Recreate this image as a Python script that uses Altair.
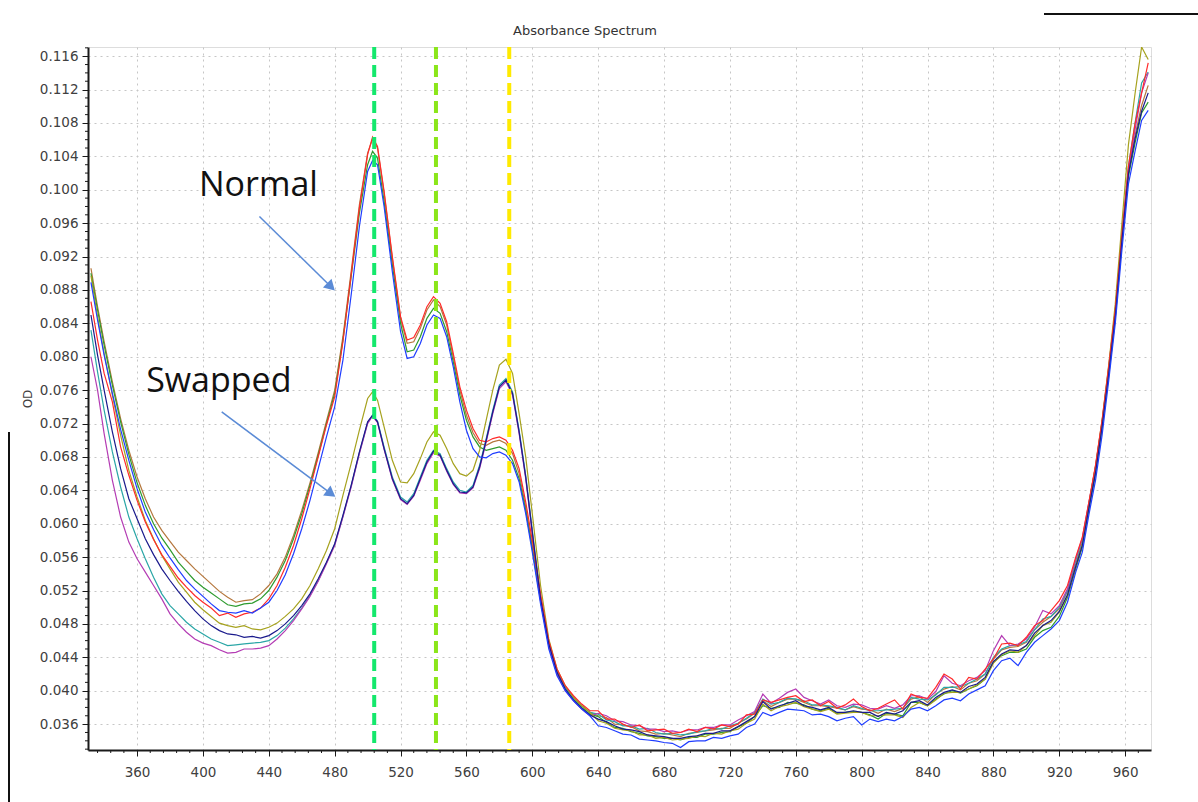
import math

import altair as alt
import pandas as pd

# ---------------------------------------------------------------------------
# Data: absorbance (milli-OD) of eight samples on a shared wavelength grid (nm)
# ---------------------------------------------------------------------------
WAVELENGTH = [
    332, 336, 340, 345, 350, 355, 360, 365, 370, 375, 380, 385, 390, 395, 400,
    405, 410, 415, 420, 425, 430, 435, 440, 445, 450, 455, 460, 465, 470, 475,
    480, 485, 490, 495, 500,
    503, 506, 510, 515, 520, 524, 528, 532, 536, 540, 544, 548, 552, 556, 560,
    564, 568, 572, 576, 580, 584, 588, 592, 596, 600, 605, 610, 615, 620, 625,
    630, 635,
    640, 645, 650, 655, 660, 665, 670, 675, 680, 685, 690, 695, 700, 705, 710,
    715, 720, 725, 730, 735, 740, 745, 750, 755, 760, 765, 770, 775, 780, 785,
    790, 795, 800, 805, 810, 815, 820, 825, 830, 835, 840, 845, 850, 855, 860,
    865, 870, 875, 880, 885, 890, 895, 900, 905, 910, 915, 920, 925, 930,
    934, 938, 942, 946, 950, 954, 958, 962, 966, 970, 974,
]

# Normal samples
NORMAL_RED = [
    86.6, 82.0, 78.0, 74.6, 69.2, 65.8, 62.8, 60.2, 58.1, 56.3, 54.9, 53.5, 52.4, 51.4, 50.6,
    49.9, 49.0, 49.3, 48.8, 49.2, 49.4, 49.9, 51.0, 52.6, 54.8, 57.4, 60.6, 64.2, 68.0, 71.8,
    75.2, 81.8, 89.8, 97.8, 104.2,
    106.3, 105.2, 99.8, 92.0, 84.8, 82.0, 82.3, 83.8, 86.0, 87.2, 86.4, 84.2, 80.4, 76.4, 73.6,
    71.4, 70.0, 69.8, 70.2, 70.4, 70.0, 68.8, 66.6, 62.6, 58.0, 51.6, 46.0, 42.6, 40.6, 39.4,
    38.4, 37.6,
    37.6, 36.6, 36.6, 36.0, 35.6, 35.9, 35.2, 35.3, 35.4, 34.9, 35.0, 35.4, 35.1, 35.6, 35.4,
    35.9, 35.7, 36.0, 37.1, 37.2, 38.9, 38.6, 38.9, 39.2, 39.4, 38.7, 38.9, 38.2, 38.7, 37.9,
    38.3, 39.0, 38.1, 37.6, 37.9, 38.4, 38.9, 37.8, 39.6, 39.2, 39.1, 40.4, 42.0, 41.4, 40.2,
    41.6, 41.4, 42.6, 43.8, 45.6, 45.7, 45.4, 46.4, 47.8, 48.4, 49.6, 50.8, 52.6, 56.0,
    58.4, 62.6, 67.0, 72.4, 78.8, 85.6, 94.5, 102.8, 107.9, 111.6, 115.2,
]
NORMAL_BROWN = [
    90.6, 86.0, 81.8, 77.0, 72.6, 68.8, 65.6, 63.0, 60.8, 59.2, 57.9, 56.6, 55.6, 54.6, 53.7,
    52.8, 51.9, 51.2, 50.6, 50.8, 50.9, 51.6, 52.6, 54.0, 56.0, 58.6, 61.6, 64.9, 68.5, 72.3,
    76.0, 82.4, 90.2, 98.2, 104.4,
    106.1, 105.0, 99.6, 91.8, 84.6, 81.6, 81.8, 83.4, 85.6, 86.8, 86.0, 83.8, 80.0, 76.0, 73.0,
    70.9, 69.6, 69.4, 69.8, 70.0, 69.6, 68.4, 66.0, 62.0, 57.4, 51.2, 45.8, 42.4, 40.4, 39.2,
    38.2, 37.4,
    37.0, 36.8, 36.0, 35.9, 35.7, 35.2, 35.1, 34.8, 34.9, 34.7, 34.5, 34.9, 35.0, 35.2, 35.3,
    35.5, 35.5, 36.1, 36.6, 37.3, 38.8, 38.1, 38.6, 39.0, 39.0, 38.6, 38.2, 38.2, 38.1, 37.9,
    37.7, 38.1, 37.8, 37.7, 37.3, 37.8, 37.5, 37.9, 39.0, 39.3, 38.6, 39.6, 40.2, 40.5, 40.1,
    40.9, 41.2, 42.0, 43.8, 44.9, 45.2, 45.3, 45.8, 47.3, 48.2, 48.9, 49.8, 51.9, 55.2,
    57.8, 62.3, 66.5, 72.0, 78.3, 85.2, 94.2, 102.3, 106.5, 110.1, 112.5,
]
NORMAL_GREEN = [
    90.0, 85.6, 81.4, 76.6, 72.2, 68.3, 64.9, 62.2, 60.0, 58.3, 56.9, 55.4, 54.3, 53.2, 52.4,
    51.7, 51.0, 50.3, 50.1, 50.4, 50.5, 51.0, 52.0, 53.6, 55.6, 58.2, 61.2, 64.6, 68.2, 72.0,
    75.6, 82.0, 89.6, 97.2, 103.0,
    104.6, 103.8, 98.6, 91.0, 84.0, 80.6, 80.8, 82.4, 84.6, 85.8, 85.2, 83.0, 79.4, 75.4, 72.4,
    70.4, 69.2, 68.8, 69.0, 69.2, 68.8, 67.6, 65.4, 61.6, 57.0, 50.8, 45.4, 42.0, 40.2, 39.0,
    38.0, 37.2,
    36.9, 36.2, 35.6, 35.5, 35.1, 34.9, 34.6, 34.5, 34.3, 34.3, 34.1, 34.4, 34.4, 34.8, 34.8,
    35.0, 35.1, 35.7, 36.1, 36.9, 38.2, 37.9, 38.0, 38.6, 38.5, 38.3, 37.8, 37.6, 37.9, 37.3,
    37.4, 37.5, 37.4, 37.1, 36.6, 37.3, 37.2, 37.0, 38.6, 38.6, 38.2, 39.0, 39.6, 40.0, 39.7,
    40.2, 40.6, 41.4, 43.4, 44.2, 44.6, 44.6, 45.0, 46.4, 47.2, 47.6, 48.9, 51.2, 54.6,
    57.2, 61.7, 65.9, 71.4, 77.7, 84.6, 93.6, 101.6, 105.6, 109.2, 110.5,
]
NORMAL_BLUE = [
    88.9, 84.4, 80.2, 75.6, 71.3, 67.6, 64.2, 61.4, 59.3, 57.4, 55.9, 54.5, 53.2, 52.2, 51.3,
    50.4, 49.6, 49.4, 49.3, 49.6, 49.3, 49.9, 50.6, 52.0, 53.9, 56.4, 59.4, 62.8, 66.6, 70.4,
    74.0, 79.6, 87.4, 95.6, 102.2,
    103.5, 103.0, 98.0, 90.2, 83.0, 79.8, 80.0, 81.6, 83.8, 85.0, 84.6, 82.4, 78.8, 74.6, 71.2,
    69.0, 68.0, 67.9, 68.4, 68.6, 68.2, 67.2, 65.0, 61.2, 56.6, 50.4, 45.0, 41.8, 40.0, 38.8,
    37.8, 37.0,
    35.8, 35.6, 35.2, 34.8, 34.7, 34.2, 34.1, 34.0, 33.8, 33.7, 33.2, 33.9, 34.0, 34.0, 34.4,
    34.3, 34.6, 34.8, 35.6, 36.0, 37.4, 37.0, 37.4, 37.8, 37.7, 37.6, 37.1, 37.2, 36.9, 36.4,
    36.7, 36.9, 35.9, 36.6, 36.3, 36.6, 36.4, 36.9, 37.8, 38.0, 37.6, 38.2, 38.9, 39.1, 38.8,
    39.6, 40.1, 40.6, 42.4, 43.6, 43.9, 43.0, 44.6, 45.8, 46.6, 47.4, 48.4, 50.6, 54.2,
    56.6, 61.1, 65.2, 70.6, 77.1, 84.0, 92.7, 100.7, 104.6, 108.3, 109.5,
]

# Swapped samples
SWAPPED_OLIVE = [
    89.7, 84.8, 80.4, 75.4, 70.6, 66.4, 63.2, 60.4, 58.2, 56.2, 54.6, 53.0, 51.8, 50.6, 49.7,
    48.9, 48.1, 47.8, 47.6, 47.8, 47.4, 47.3, 47.6, 48.1, 48.9, 49.8, 51.0, 52.6, 54.6, 56.8,
    59.4, 63.4, 67.2, 71.2, 75.0,
    75.8, 74.8, 71.6, 67.6, 65.0, 64.9, 66.0, 67.8, 69.8, 71.0, 70.6, 69.0, 67.2, 66.0, 65.7,
    66.4, 68.8, 72.4, 76.0, 79.0, 79.7, 78.0, 73.2, 68.0, 61.2, 52.6, 46.2, 42.6, 40.6, 39.2,
    38.2, 37.4,
    36.4, 36.1, 35.5, 35.3, 35.2, 34.7, 34.7, 34.3, 34.4, 34.1, 34.2, 34.3, 34.6, 34.5, 34.9,
    34.8, 35.2, 35.4, 36.1, 36.6, 38.4, 37.6, 38.1, 38.3, 38.6, 38.1, 37.8, 37.5, 37.8, 37.2,
    37.3, 37.4, 37.4, 37.0, 37.0, 37.1, 37.1, 36.8, 38.0, 38.6, 38.2, 38.9, 39.7, 39.8, 39.8,
    40.2, 40.7, 41.4, 43.3, 44.3, 44.8, 44.6, 45.4, 46.6, 47.8, 48.2, 49.4, 51.4, 54.8,
    57.5, 62.4, 66.9, 72.4, 79.0, 86.3, 95.9, 105.4, 111.5, 117.1, 115.6,
]
SWAPPED_NAVY = [
    85.0, 80.2, 76.0, 71.0, 66.6, 63.0, 60.6, 58.2, 56.3, 54.6, 53.2, 51.9, 50.7, 49.6, 48.6,
    47.8, 47.2, 46.8, 46.7, 46.4, 46.5, 46.3, 46.6, 47.2, 48.0, 49.0, 50.2, 51.6, 53.4, 55.4,
    57.6, 61.0, 64.6, 68.6, 72.2,
    73.0, 72.2, 69.0, 65.4, 63.0, 62.4, 63.4, 65.4, 67.4, 68.7, 68.2, 66.4, 64.8, 63.8, 63.7,
    64.4, 66.8, 70.0, 73.4, 76.4, 77.2, 75.6, 71.0, 65.6, 59.0, 51.0, 45.6, 42.2, 40.2, 38.9,
    37.9, 37.1,
    36.6, 36.3, 35.8, 35.4, 35.3, 35.1, 34.7, 34.6, 34.5, 34.3, 34.3, 34.5, 34.6, 34.9, 34.9,
    35.2, 35.2, 35.7, 36.3, 36.9, 38.7, 37.8, 38.2, 38.5, 38.8, 38.2, 38.0, 37.7, 38.0, 37.4,
    37.4, 37.6, 37.4, 37.4, 36.9, 37.4, 37.2, 37.6, 38.6, 38.8, 38.3, 39.2, 39.8, 40.1, 39.8,
    40.5, 40.8, 41.6, 43.5, 44.4, 44.9, 44.8, 45.4, 46.9, 47.8, 48.4, 49.5, 51.5, 54.9,
    57.4, 61.9, 66.1, 71.6, 77.9, 84.8, 93.8, 101.9, 106.1, 109.4, 111.6,
]
SWAPPED_TEAL = [
    83.2, 78.2, 73.6, 68.6, 64.4, 60.8, 58.2, 55.8, 53.6, 51.6, 50.2, 49.2, 48.2, 47.4, 46.8,
    46.2, 45.8, 45.4, 45.5, 45.6, 45.7, 45.8, 46.0, 46.6, 47.5, 48.6, 49.9, 51.4, 53.2, 55.3,
    57.5, 60.9, 64.5, 68.5, 72.1,
    73.0, 72.3, 69.2, 65.6, 63.2, 62.6, 63.6, 65.6, 67.6, 68.8, 68.4, 66.6, 65.0, 64.0, 63.8,
    64.6, 67.0, 70.2, 73.6, 76.6, 77.4, 75.8, 71.2, 65.8, 59.2, 51.2, 45.8, 42.4, 40.4, 39.2,
    38.2, 37.4,
    37.2, 36.5, 36.3, 35.8, 35.8, 35.4, 35.5, 35.0, 34.8, 34.9, 34.7, 34.8, 35.1, 35.2, 35.5,
    35.4, 35.8, 36.1, 36.7, 37.4, 39.0, 38.4, 38.6, 39.1, 39.0, 38.8, 38.3, 38.3, 38.2, 38.0,
    37.7, 38.2, 37.9, 37.6, 37.6, 37.7, 37.8, 37.9, 39.2, 39.0, 38.9, 39.5, 40.4, 40.4, 40.5,
    40.9, 41.4, 42.0, 44.0, 45.0, 45.4, 45.5, 45.9, 47.3, 48.6, 48.9, 50.0, 52.0, 55.6,
    58.1, 62.4, 66.8, 72.2, 78.5, 85.4, 94.4, 102.8, 108.0, 112.8, 114.1,
]
SWAPPED_MAGENTA = [
    80.0, 76.0, 70.8, 65.2, 60.8, 57.8, 55.8, 54.2, 52.6, 51.0, 49.2, 48.0, 47.0, 46.2, 45.7,
    45.4, 44.9, 44.5, 44.6, 45.0, 45.0, 45.1, 45.4, 46.2, 47.2, 48.4, 49.8, 51.3, 53.1, 55.2,
    57.4, 60.8, 64.4, 68.4, 72.0,
    72.9, 72.1, 68.9, 65.3, 62.9, 62.3, 63.3, 65.2, 67.2, 68.5, 68.1, 66.3, 64.7, 63.7, 63.6,
    64.3, 66.6, 69.8, 73.2, 76.2, 77.0, 75.4, 70.8, 65.4, 58.8, 50.8, 45.4, 42.0, 40.0, 38.8,
    37.8, 37.0,
    37.3, 37.0, 36.4, 36.3, 35.9, 35.8, 35.4, 35.4, 35.1, 35.2, 35.0, 35.3, 35.3, 35.6, 35.6,
    35.9, 35.9, 36.5, 37.0, 37.5, 39.6, 38.5, 39.1, 39.8, 40.2, 39.2, 38.8, 38.4, 38.9, 38.2,
    38.0, 38.4, 38.3, 37.9, 37.8, 38.2, 37.9, 38.3, 39.4, 39.4, 39.0, 39.9, 41.8, 40.9, 40.6,
    41.2, 41.6, 42.4, 44.8, 46.6, 45.4, 45.6, 46.2, 47.6, 49.6, 49.2, 50.2, 52.2, 55.8,
    58.3, 62.6, 66.8, 72.2, 78.7, 85.6, 94.5, 102.3, 107.2, 111.6, 114.0,
]

SAMPLE_NAMES = [
    "Normal 2", "Normal 3", "Swapped 3", "Swapped 4", "Swapped 1",
    "Normal 1", "Swapped 2", "Normal 4",
]
SAMPLE_VALUES = [
    NORMAL_BROWN, NORMAL_GREEN, SWAPPED_TEAL, SWAPPED_MAGENTA, SWAPPED_OLIVE,
    NORMAL_RED, SWAPPED_NAVY, NORMAL_BLUE,
]
SAMPLE_COLORS = [
    "#b5773d", "#2e9b2e", "#2aa6a6", "#b43cb4", "#a6a21e",
    "#ff2a2a", "#1a1a8c", "#1f3dff",
]

# Marker wavelengths (dashed guides)
GUIDE_WL = [504, 541.5, 586]
GUIDE_COLORS = ["#14e86c", "#8be61a", "#ffea00"]

# Group annotations and their arrows
LABELS = ["Normal", "Swapped"]
LABEL_WL = [397.6, 365.5]
LABEL_OD = [0.0993, 0.0758]
ARROW_FROM_WL = [434.3, 411.4]
ARROW_FROM_OD = [0.0968, 0.0734]
ARROW_TO_WL = [480.8, 481.2]
ARROW_TO_OD = [0.0878, 0.0631]
ARROW_COLOR = "#5b8bd6"

# Axis ticks
X_TICKS = [360, 400, 440, 480, 520, 560, 600, 640, 680, 720, 760, 800, 840, 880, 920, 960]
Y_TICKS = [0.036, 0.040, 0.044, 0.048, 0.052, 0.056, 0.060, 0.064, 0.068, 0.072, 0.076,
           0.080, 0.084, 0.088, 0.092, 0.096, 0.100, 0.104, 0.108, 0.112, 0.116]
TITLE = "Absorbance Spectrum"

# ---------------------------------------------------------------------------
# Layout
# ---------------------------------------------------------------------------
PLOT_W, PLOT_H = 1063, 703
X_DOMAIN = [330.2, 975.7]
Y_DOMAIN = [0.0329, 0.1171]
INK = "#1a1a1a"
LABEL_FONT = "DejaVu Sans"

for vals in SAMPLE_VALUES:
    assert len(vals) == len(WAVELENGTH), len(vals)

rows = []
for name, vals in zip(SAMPLE_NAMES, SAMPLE_VALUES):
    for wl, v in zip(WAVELENGTH, vals):
        rows.append({"wavelength": wl, "od": v / 1000.0, "sample": name})
spectra = pd.DataFrame(rows)

xs = alt.Scale(domain=X_DOMAIN, nice=False, zero=False)
ys = alt.Scale(domain=Y_DOMAIN, nice=False, zero=False)

common_axis = dict(
    domainColor=INK,
    domainWidth=2,
    tickColor=INK,
    tickWidth=1,
    tickSize=6,
    labelFont=LABEL_FONT,
    labelFontSize=13.5,
    labelColor="#404040",
    labelOverlap=False,
    gridColor="#c6c6c6",
    gridDash=[2, 4],
    gridWidth=1,
)
x_axis = alt.Axis(
    values=X_TICKS, orient="bottom", title=None, labelPadding=9, labelFlush=False,
    **common_axis,
)
y_axis = alt.Axis(
    values=Y_TICKS,
    orient="left",
    format=".3f",
    labelPadding=4,
    title="OD",
    titleFont=LABEL_FONT,
    titleFontSize=12,
    titleFontWeight="normal",
    titleColor="#404040",
    titleAngle=270,
    titleAlign="center",
    titleBaseline="middle",
    titleX=-61,
    titleY=PLOT_H / 2,
    **common_axis,
)


def X(field):
    return alt.X(field, scale=xs, axis=x_axis)


def Y(field):
    return alt.Y(field, scale=ys, axis=y_axis)


lines = alt.Chart(spectra).mark_line(strokeWidth=1.2, clip=True).encode(
    x=X("wavelength:Q"),
    y=Y("od:Q"),
    color=alt.Color(
        "sample:N",
        scale=alt.Scale(domain=SAMPLE_NAMES, range=SAMPLE_COLORS),
        legend=None,
    ),
)

# minor ticks: every 8 nm along x, every 0.001 OD along y
x_minor = pd.DataFrame({"wavelength": [v for v in range(336, 976, 8) if v not in X_TICKS]})
y_minor = pd.DataFrame({"od": [round(k / 1000, 3) for k in range(33, 118) if k % 4 != 0]})
minor_x = alt.Chart(x_minor).mark_rule(color=INK, strokeWidth=1).encode(
    x=X("wavelength:Q"),
    y=alt.value(PLOT_H),
    y2=alt.value(PLOT_H + 3),
)
minor_y = alt.Chart(y_minor).mark_rule(color=INK, strokeWidth=1).encode(
    y=Y("od:Q"),
    x=alt.value(-3),
    x2=alt.value(0),
)

guides = [
    alt.Chart(pd.DataFrame({"wavelength": [wl]}))
    .mark_rule(color=c, strokeWidth=4, strokeDash=[12, 6])
    .encode(x=X("wavelength:Q"))
    for wl, c in zip(GUIDE_WL, GUIDE_COLORS)
]

# arrows: shaft plus a triangular head whose tip sits on the end point
px_per_nm = PLOT_W / (X_DOMAIN[1] - X_DOMAIN[0])
px_per_od = PLOT_H / (Y_DOMAIN[1] - Y_DOMAIN[0])
HEAD_BACK = 7.0
arrow_rows = []
for x1, y1, x2, y2 in zip(ARROW_FROM_WL, ARROW_FROM_OD, ARROW_TO_WL, ARROW_TO_OD):
    dx = (x2 - x1) * px_per_nm
    dy = -(y2 - y1) * px_per_od
    theta = math.atan2(dy, dx)
    arrow_rows.append({
        "x1": x1, "y1": y1, "x2": x2, "y2": y2,
        "hx": x2 - HEAD_BACK * math.cos(theta) / px_per_nm,
        "hy": y2 + HEAD_BACK * math.sin(theta) / px_per_od,
        "angle": (math.degrees(theta) + 90) % 360,
    })
arrows_df = pd.DataFrame(arrow_rows)

shafts = alt.Chart(arrows_df).mark_rule(color=ARROW_COLOR, strokeWidth=1.5).encode(
    x=X("x1:Q"),
    y=Y("y1:Q"),
    x2="hx:Q",
    y2="hy:Q",
)
heads = alt.Chart(arrows_df).mark_point(
    shape="triangle-up", filled=True, size=150, color=ARROW_COLOR, opacity=1
).encode(
    x=X("hx:Q"),
    y=Y("hy:Q"),
    angle=alt.Angle("angle:Q", scale=None),
)

labels_df = pd.DataFrame({"label": LABELS, "wavelength": LABEL_WL, "od": LABEL_OD})
labels = alt.Chart(labels_df).mark_text(
    align="left", baseline="alphabetic", font="Open Sans", fontSize=34, color="#111111"
).encode(
    x=X("wavelength:Q"),
    y=Y("od:Q"),
    text="label:N",
)

one = pd.DataFrame({"text": [TITLE]})
title = alt.Chart(one).mark_text(
    align="center", baseline="middle", font=LABEL_FONT, fontSize=13, color="#333333"
).encode(x=alt.value(497), y=alt.value(-16), text="text:N")

# thin black frame strokes around the figure edge
edge_left = alt.Chart(one).mark_rule(color="#111111", strokeWidth=2).encode(
    x=alt.value(-79), y=alt.value(385), y2=alt.value(PLOT_H + 52)
)
edge_top = alt.Chart(one).mark_rule(color="#111111", strokeWidth=2).encode(
    x=alt.value(956), x2=alt.value(PLOT_W + 47), y=alt.value(-33)
)

chart = (
    alt.layer(lines, *guides, shafts, heads, labels, minor_x, minor_y,
              title, edge_left, edge_top)
    .properties(
        width=PLOT_W,
        height=PLOT_H,
        padding={"left": 88, "top": 47, "right": 47, "bottom": 52},
        autosize=alt.AutoSizeParams(type="none"),
    )
    .configure_view(stroke="transparent", strokeWidth=0)
    .configure(background="white")
)

chart.save("out.html", embed_options={"renderer": "svg", "actions": False})
